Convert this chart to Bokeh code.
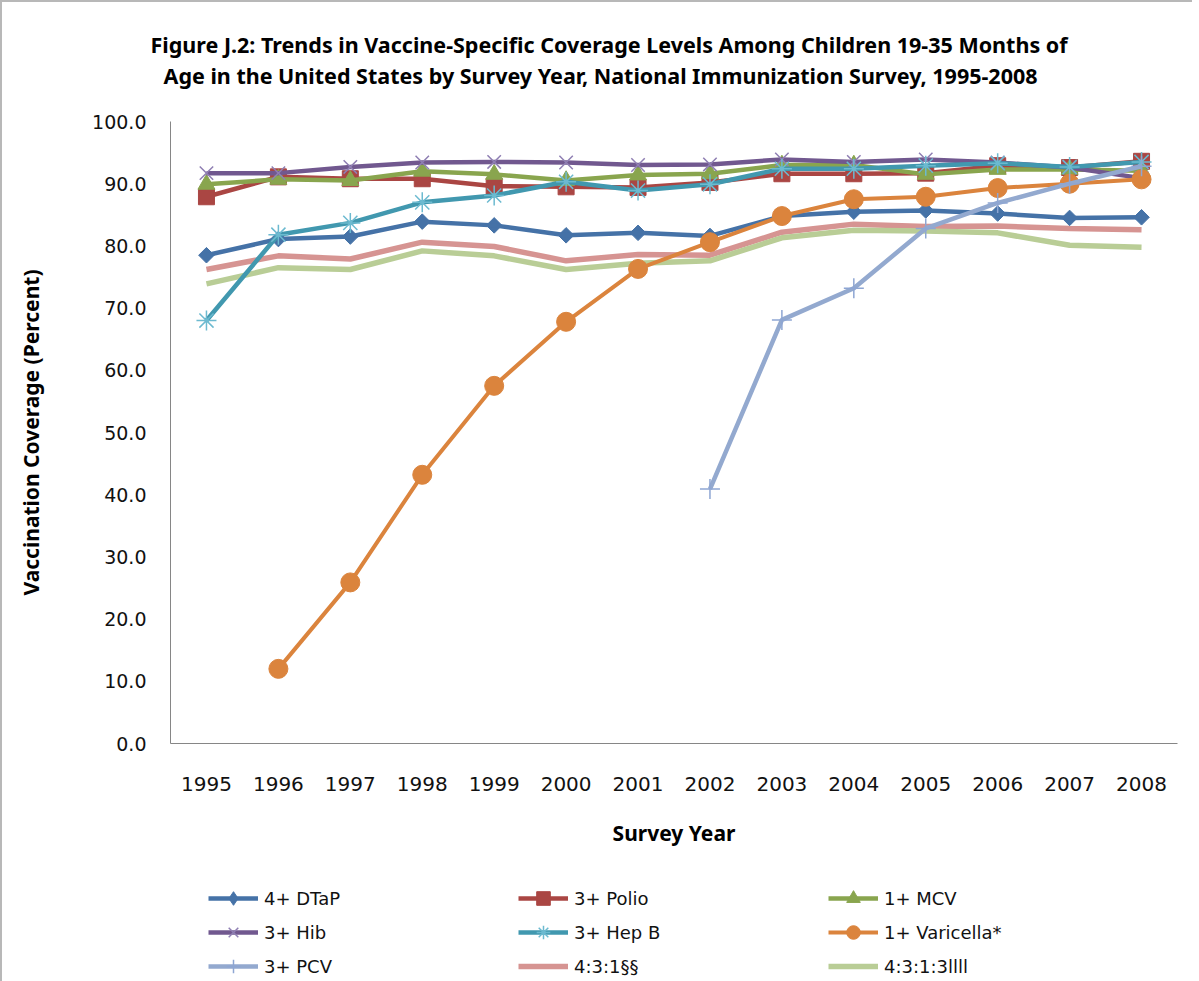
import math
from bokeh.plotting import figure
from bokeh.layouts import column
from bokeh.models import (Range1d, FactorRange, FixedTicker, NumeralTickFormatter,
                          Legend, LegendItem, Title)
from bokeh.embed import file_html
from bokeh.resources import INLINE

years = ["1995", "1996", "1997", "1998", "1999", "2000", "2001",
         "2002", "2003", "2004", "2005", "2006", "2007", "2008"]
varicella_years = ["1996", "1997", "1998", "1999", "2000", "2001",
                   "2002", "2003", "2004", "2005", "2006", "2007", "2008"]
pcv_years = ["2002", "2003", "2004", "2005", "2006", "2007", "2008"]

dtap = [78.5, 81.1, 81.5, 83.9, 83.3, 81.7, 82.1, 81.6, 84.8, 85.5, 85.7, 85.2, 84.5, 84.6]
polio = [87.9, 91.1, 90.8, 90.8, 89.6, 89.5, 89.4, 90.2, 91.6, 91.6, 91.7, 92.9, 92.6, 93.6]
mcv = [89.9, 90.7, 90.5, 92.0, 91.5, 90.5, 91.4, 91.6, 93.0, 93.0, 91.5, 92.3, 92.3, 92.1]
hib = [91.7, 91.7, 92.7, 93.4, 93.5, 93.4, 93.0, 93.1, 93.9, 93.5, 93.9, 93.4, 92.6, 90.9]
hepb = [68.0, 81.8, 83.7, 87.0, 88.1, 90.3, 88.9, 89.9, 92.4, 92.4, 92.9, 93.3, 92.7, 93.5]
varicella = [12.0, 25.9, 43.2, 57.5, 67.8, 76.3, 80.6, 84.8, 87.5, 87.9, 89.3, 90.0, 90.7]
pcv = [40.9, 68.1, 73.2, 82.8, 86.9, 90.0, 92.8]
s431 = [76.2, 78.4, 77.9, 80.6, 79.9, 77.6, 78.6, 78.5, 82.2, 83.5, 83.1, 83.2, 82.8, 82.6]
s4313 = [73.9, 76.5, 76.2, 79.2, 78.4, 76.2, 77.2, 77.6, 81.3, 82.5, 82.4, 82.1, 80.1, 79.8]

labels = ["4+ DTaP", "3+ Polio", "1+ MCV", "3+ Hib", "3+ Hep B", "1+ Varicella*",
          "3+ PCV", "4:3:1§§", "4:3:1:3llll"]

y_ticks = [0, 10, 20, 30, 40, 50, 60, 70, 80, 90, 100]

title_1 = "Figure J.2: Trends in Vaccine-Specific Coverage Levels Among Children 19-35 Months of"
title_2 = "Age in the United States by Survey Year, National Immunization Survey, 1995-2008"

p = figure(width=1190, height=863,
           x_range=FactorRange(factors=years, range_padding=0),
           y_range=Range1d(0, 100),
           output_backend="svg", toolbar_location=None,
           min_border_left=168, min_border_right=15,
           min_border_top=119, min_border_bottom=122)
p.grid.visible = False
p.outline_line_color = None
p.background_fill_color = "white"
p.border_fill_color = "white"

for ax in (p.xaxis[0], p.yaxis[0]):
    ax.axis_line_color = "#868686"
    ax.axis_line_width = 1
    ax.major_tick_line_color = None
    ax.minor_tick_line_color = None
    ax.major_label_text_font = "DejaVu Sans"
    ax.major_label_text_color = "#111111"
    ax.axis_label_text_font = "Noto Sans"
    ax.axis_label_text_font_style = "bold"
    ax.axis_label_text_font_size = "21px"
    ax.axis_label_text_color = "#000000"

p.yaxis.ticker = FixedTicker(ticks=y_ticks)
p.yaxis.formatter = NumeralTickFormatter(format="0.0")
p.yaxis.major_label_text_font_size = "19px"
p.yaxis.major_label_standoff = 18
p.yaxis.axis_label = "Vaccination Coverage (Percent)"
p.yaxis.axis_label_standoff = 44

p.xaxis.major_label_text_font_size = "20px"
p.xaxis.major_label_standoff = 27
p.xaxis.axis_label = "Survey Year"
p.xaxis.axis_label_standoff = 25


def draw(fig, visible=True, diamond_as_square=True):
    rs = {}
    rs["431"] = [fig.line(years, s431, line_color="#D69492", line_width=5.5, visible=visible)]
    rs["4313"] = [fig.line(years, s4313, line_color="#B9CD96", line_width=5.5, visible=visible)]
    if diamond_as_square:
        dm = fig.scatter(years, dtap, marker="square", size=11, angle=math.pi / 4,
                         fill_color="#4572A7", line_color="#4572A7", visible=visible)
    else:
        dm = fig.scatter(years, dtap, marker="diamond", size=16,
                         fill_color="#4572A7", line_color="#4572A7", visible=visible)
    rs["dtap"] = [
        fig.line(years, dtap, line_color="#4572A7", line_width=4.5, visible=visible), dm]
    rs["polio"] = [
        fig.line(years, polio, line_color="#AA4643", line_width=4.5, visible=visible),
        fig.scatter(years, polio, marker="square", size=16,
                    fill_color="#AA4643", line_color="#AA4643", visible=visible)]
    rs["mcv"] = [
        fig.line(years, mcv, line_color="#89A54E", line_width=4.5, visible=visible),
        fig.scatter(years, mcv, marker="triangle", size=17,
                    fill_color="#89A54E", line_color="#89A54E", visible=visible)]
    rs["hib"] = [
        fig.line(years, hib, line_color="#71588F", line_width=4.5, visible=visible),
        fig.scatter(years, hib, marker="x", size=19,
                    line_color="#8f7fb3", line_width=1.5, visible=visible)]
    rs["hepb"] = [
        fig.line(years, hepb, line_color="#4198AF", line_width=4.5, visible=visible),
        fig.scatter(years, hepb, marker="asterisk", size=20,
                    line_color="#6cbad0", line_width=1.5, visible=visible)]
    rs["var"] = [
        fig.line(varicella_years, varicella, line_color="#DB843D", line_width=4, visible=visible),
        fig.scatter(varicella_years, varicella, marker="circle", size=19,
                    fill_color="#DB843D", line_color="#DB843D", visible=visible)]
    rs["pcv"] = [
        fig.line(pcv_years, pcv, line_color="#93A9CF", line_width=4.5, visible=visible),
        fig.scatter(pcv_years, pcv, marker="cross", size=20,
                    line_color="#8ea6d3", line_width=1.5, visible=visible)]
    return rs


draw(p)

# two-line title (added nearest-first; a blank spacer sits next to the frame)
p.add_layout(Title(text=" ", text_font_size="10px", standoff=19), "above")
p.add_layout(Title(text=title_2, align="left", offset=-7, standoff=0,
                   text_font="Noto Sans", text_font_style="bold",
                   text_font_size="21.5px", text_color="#000000"), "above")
p.add_layout(Title(text=title_1, align="left", offset=-20, standoff=0,
                   text_font="Noto Sans", text_font_style="bold",
                   text_font_size="21.5px", text_color="#000000"), "above")

# legend strip below the chart
lp = figure(width=1190, height=116,
            x_range=FactorRange(factors=years, range_padding=0),
            y_range=Range1d(0, 100),
            output_backend="svg", toolbar_location=None,
            x_axis_location=None, y_axis_location=None,
            min_border=0)
lp.grid.visible = False
lp.outline_line_color = None
lp.background_fill_color = "white"
lp.border_fill_color = "white"
rl = draw(lp, visible=False, diamond_as_square=False)

order = ["dtap", "polio", "mcv", "hib", "hepb", "var", "pcv", "431", "4313"]
items = [LegendItem(label=lab, renderers=rl[key]) for key, lab in zip(order, labels)]

legend = Legend(items=items, orientation="horizontal", ncols=3,
                location=(38, -2), margin=0, padding=0, spacing=0,
                glyph_width=50, glyph_height=34, label_height=34,
                label_width=254, label_standoff=6,
                label_text_font="DejaVu Sans", label_text_font_size="18px",
                label_text_color="#111111",
                border_line_color=None, background_fill_alpha=0)
lp.add_layout(legend)

layout = column(p, lp, spacing=0)
layout.styles = {"border-left": "2px solid #b8b8b8", "border-top": "2px solid #b8b8b8"}
open("out.html", "w").write(file_html(layout, INLINE))
